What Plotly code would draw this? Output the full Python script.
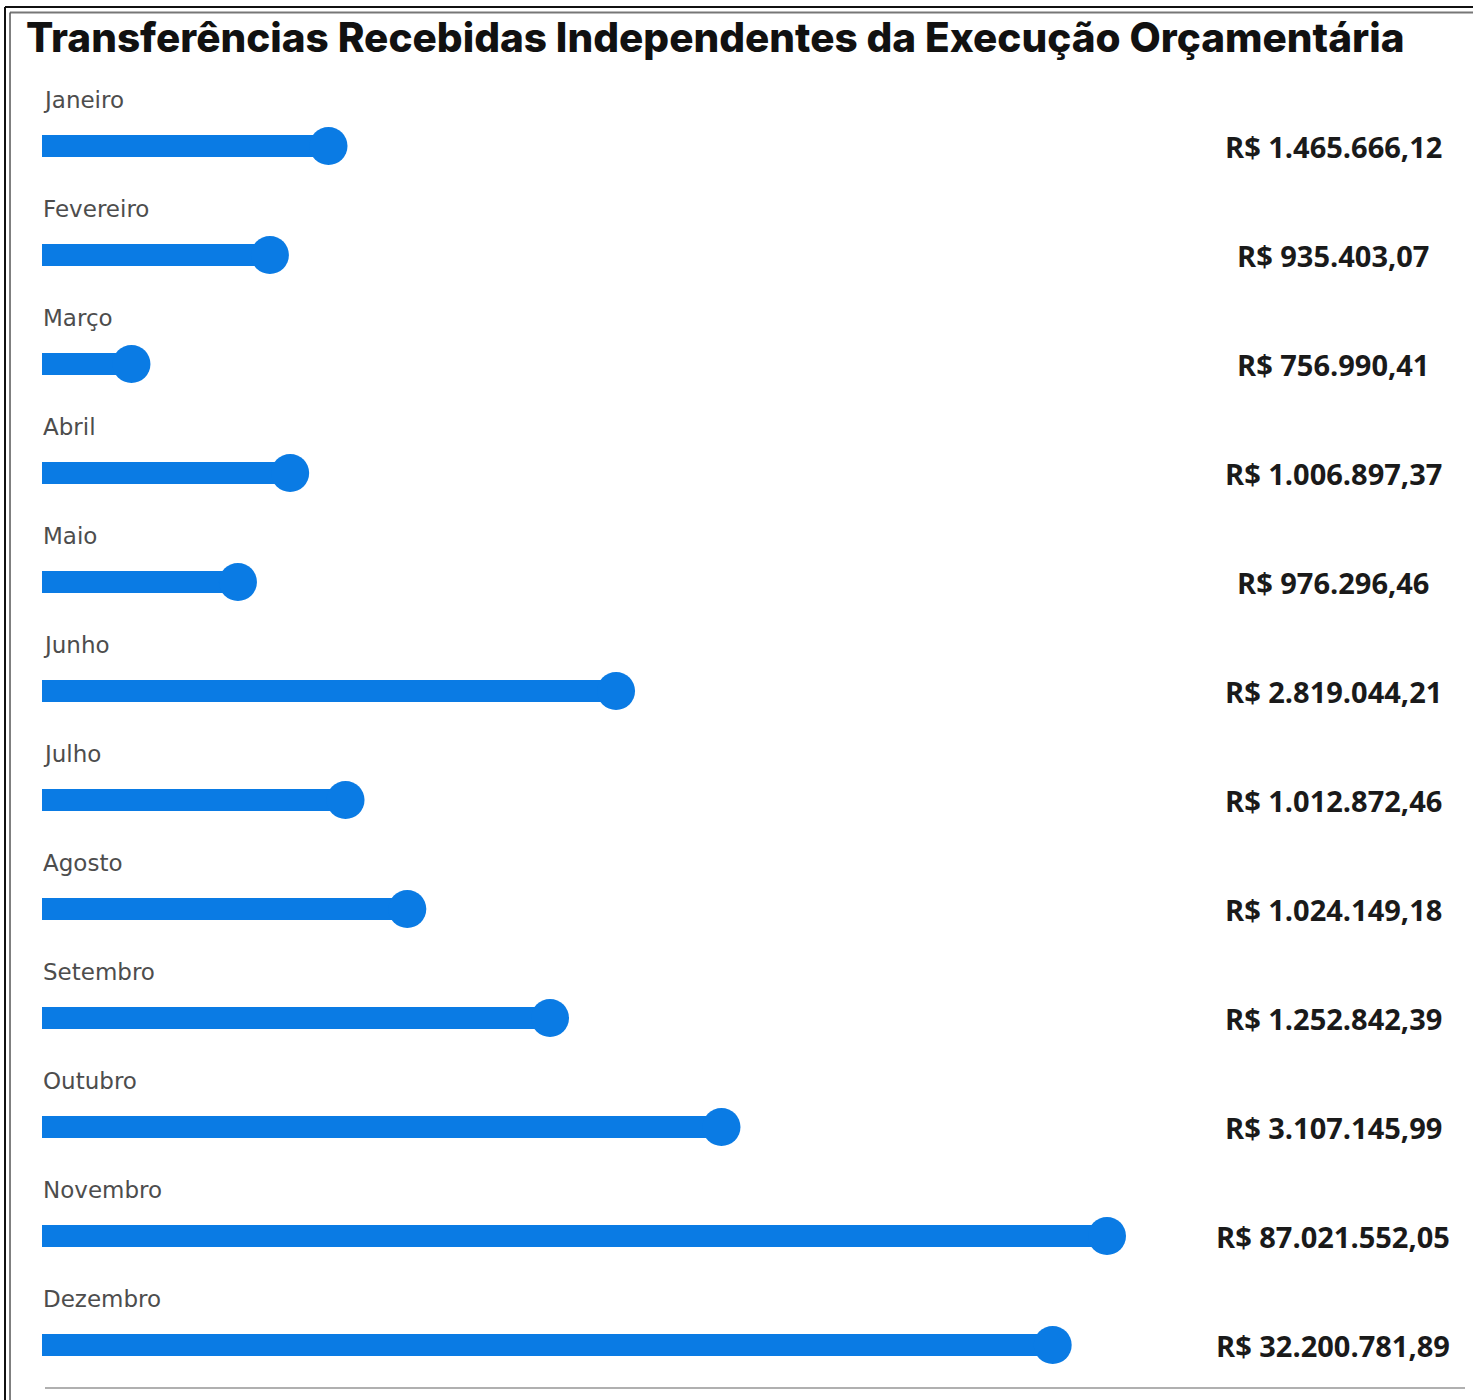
import plotly.graph_objects as go

# ---------------- data ----------------
months = ["Janeiro", "Fevereiro", "Março", "Abril", "Maio", "Junho",
          "Julho", "Agosto", "Setembro", "Outubro", "Novembro", "Dezembro"]
amounts = [1465666.12, 935403.07, 756990.41, 1006897.37, 976296.46, 2819044.21,
           1012872.46, 1024149.18, 1252842.39, 3107145.99, 87021552.05, 32200781.89]
# bar extents as drawn in the picture (relative scale, Novembro = 100)
bar_extent = [26.9, 21.4, 8.4, 23.3, 18.4, 53.9, 28.5, 34.3, 47.7, 63.8, 100.0, 94.9]

title = "Transferências Recebidas Independentes da Execução Orçamentária"

W, H = 1473, 1400
BLUE = "#0a7be4"


def brl(v):
    s = f"{v:,.2f}"
    s = s.replace(",", "X").replace(".", ",").replace("X", ".")
    return "R$ " + s


rows = list(range(len(months)))

fig = go.Figure()
fig.add_trace(go.Bar(
    y=rows, x=bar_extent, base=0, orientation="h",
    width=0.193, marker=dict(color=BLUE, line=dict(width=0)),
    hoverinfo="skip", showlegend=False,
))
fig.add_trace(go.Scatter(
    y=rows, x=bar_extent, mode="markers",
    marker=dict(color=BLUE, size=38, line=dict(width=0)),
    hoverinfo="skip", showlegend=False, cliponaxis=False,
))

# month labels and values
for i, (m, v) in enumerate(zip(months, amounts)):
    fig.add_annotation(x=-0.1, y=i, xref="x", yref="y", text=m, showarrow=False,
                       xanchor="left", yanchor="middle", yshift=46,
                       font=dict(family="DejaVu Sans", size=23, color="#4d4d4d"))
    fig.add_annotation(x=1333 / W, y=i, xref="paper", yref="y", text=brl(v), showarrow=False,
                       xanchor="center", yanchor="middle",
                       font=dict(family="Open Sans", size=29, color="#1a1a1a", weight=700))

fig.add_annotation(x=24 / W, y=1 - 38 / H, xref="paper", yref="paper", text=title,
                   showarrow=False, xanchor="left", yanchor="middle",
                   font=dict(family="Inter", size=40.5, color="#111111", weight=800))

# frame lines
def px_line(x0, y0, x1, y1, color, width):
    fig.add_shape(type="line", xref="paper", yref="paper",
                  x0=x0 / W, x1=x1 / W, y0=1 - y0 / H, y1=1 - y1 / H,
                  line=dict(color=color, width=width), layer="above")

px_line(5, 7, W, 7, "#111111", 2)
px_line(10, 12.5, W, 12.5, "#777777", 2)
px_line(5, 7, 5, H, "#111111", 2)
px_line(10, 12.5, 10, H, "#555555", 1.5)
px_line(45, 1388, 1465, 1388, "#b0b0b0", 2)

scale = 1065 / 100.0  # px per unit
x0px = 42
fig.update_layout(
    width=W, height=H,
    margin=dict(l=0, r=0, t=0, b=0),
    paper_bgcolor="white", plot_bgcolor="white",
    xaxis=dict(range=[-x0px / scale, (W - x0px) / scale], visible=False, fixedrange=True),
    yaxis=dict(range=[(H - 146) / 109.0, -146 / 109.0], visible=False, fixedrange=True),
    bargap=0,
)

fig.write_html("out.html", config={"displayModeBar": False},
               post_script="document.body.style.margin='0';document.body.style.overflow='hidden';")
